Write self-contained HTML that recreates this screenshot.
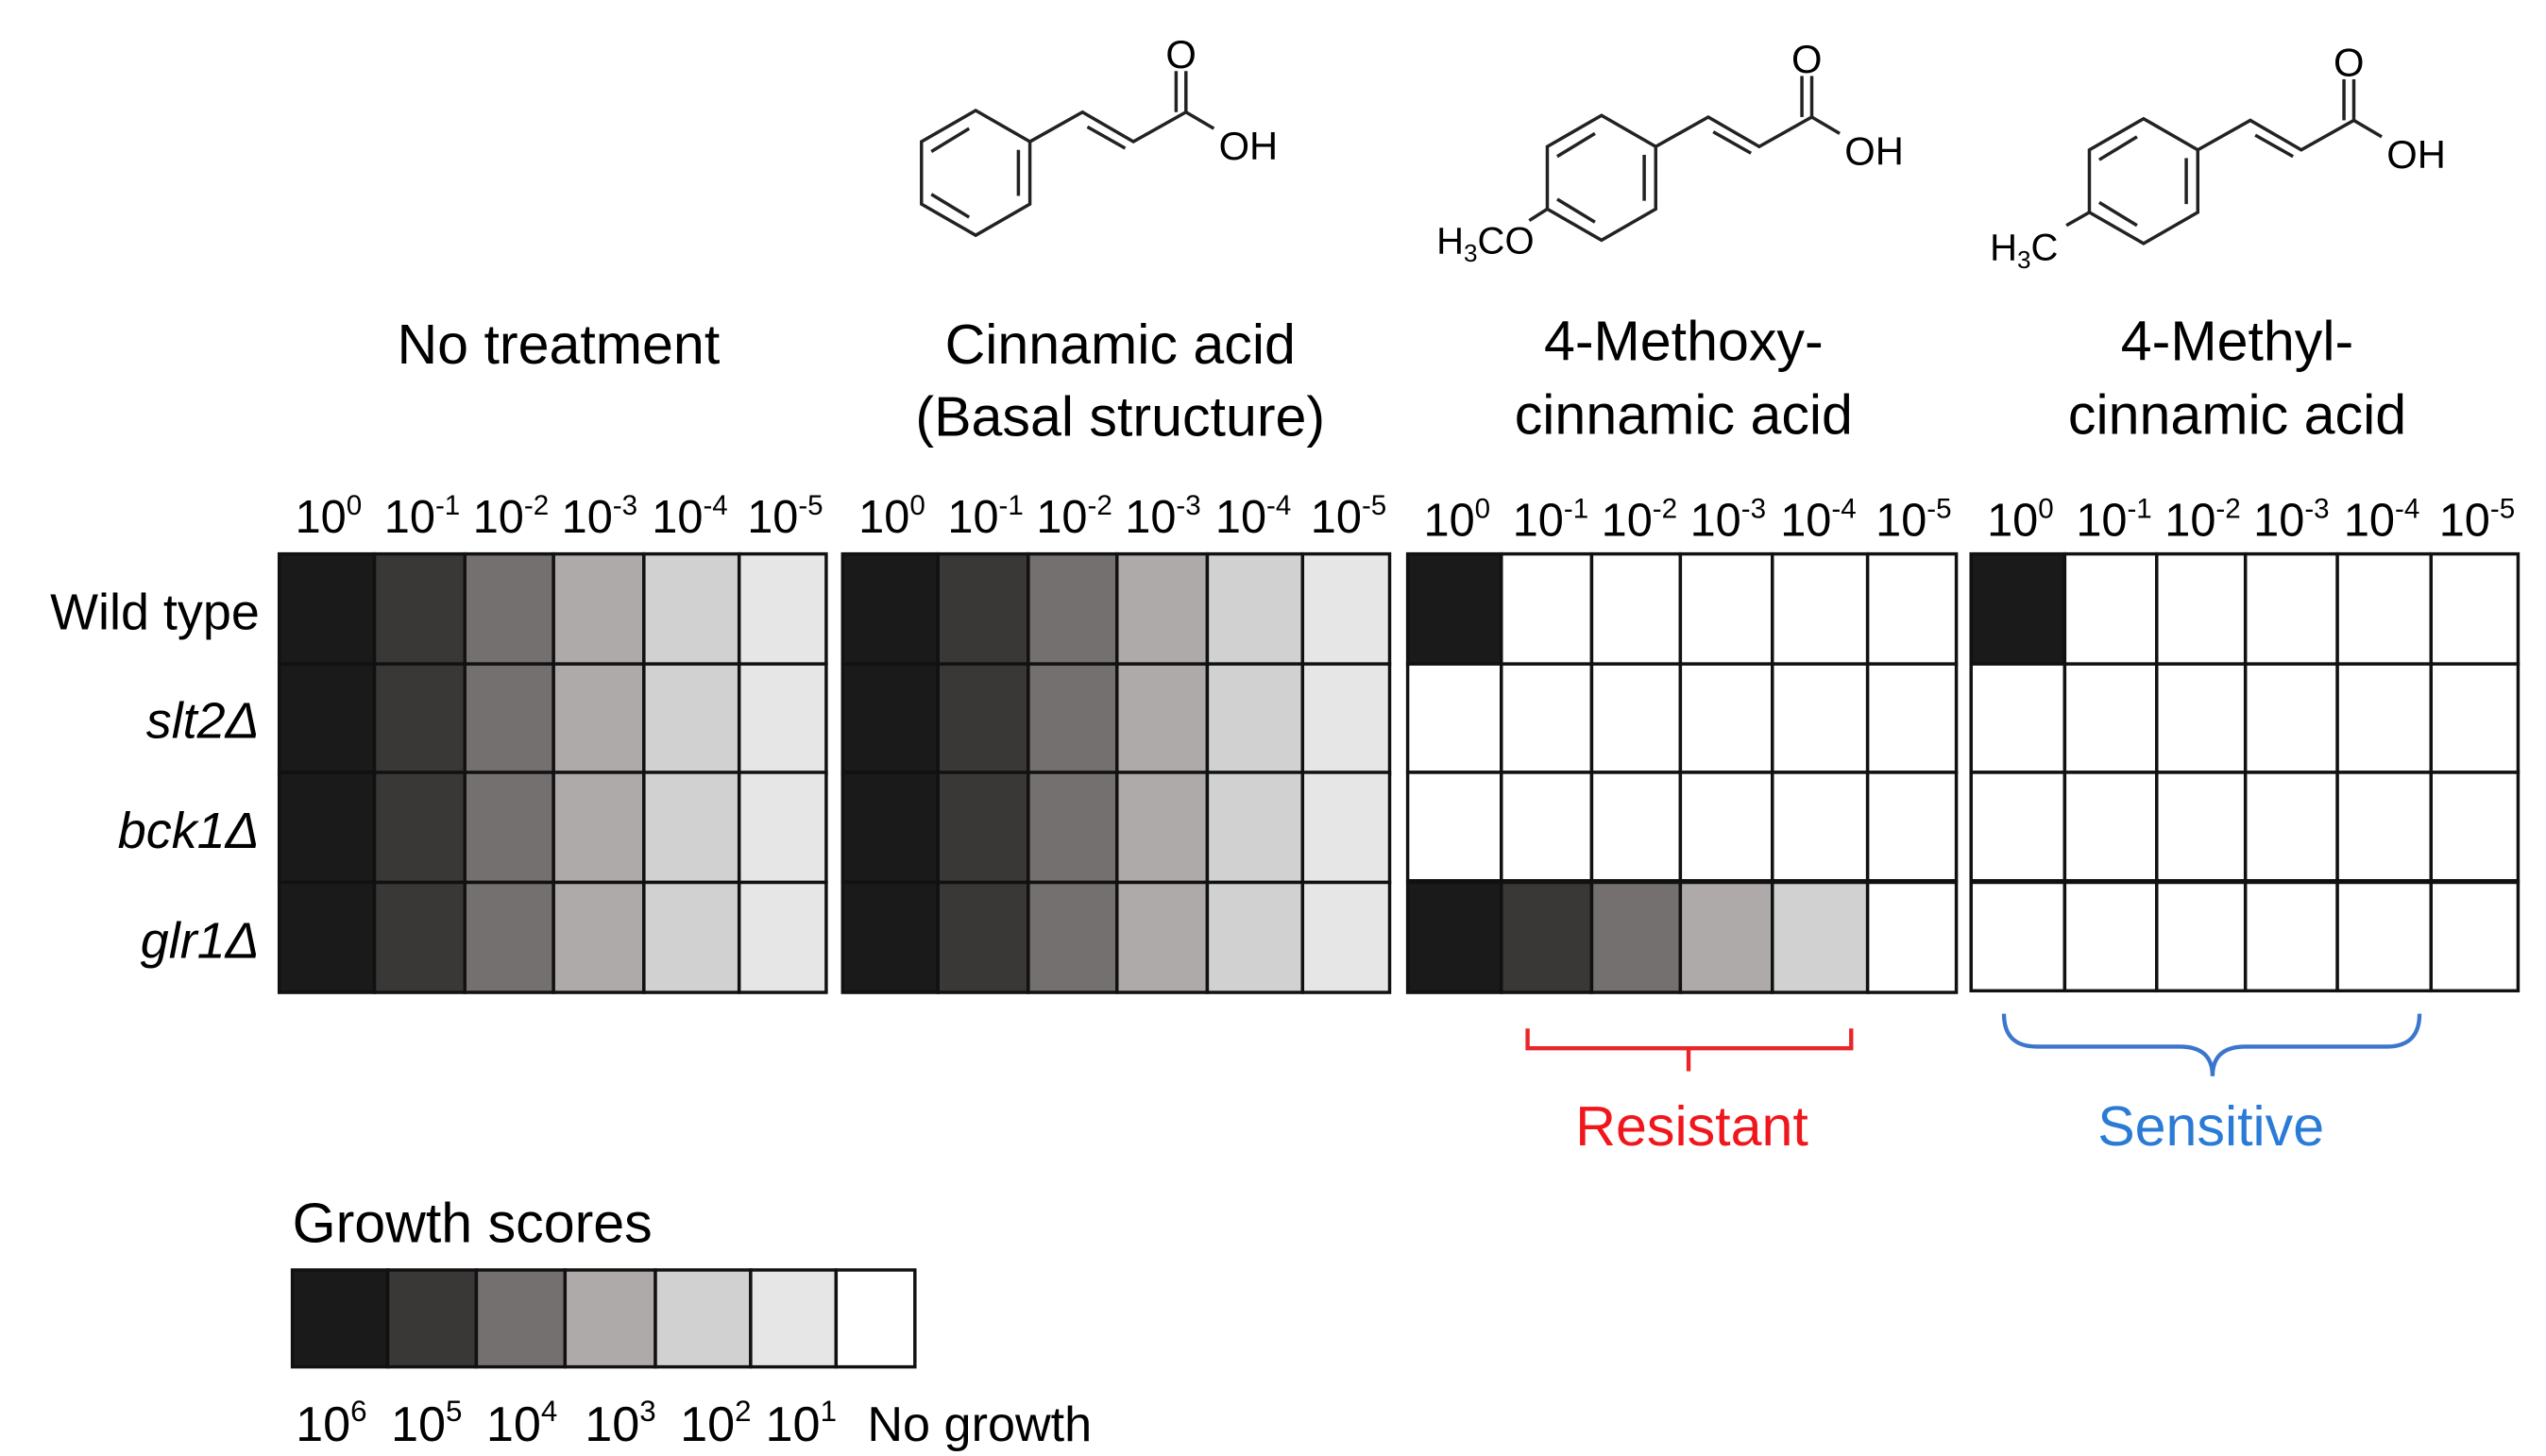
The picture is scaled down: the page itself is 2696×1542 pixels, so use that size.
<!DOCTYPE html>
<html><head><meta charset="utf-8"><style>
html,body{margin:0;padding:0;background:#fff;}
svg{display:block;}
text{font-family:"Liberation Sans Narrow","Liberation Sans",sans-serif;fill:#000;}
</style></head><body>
<svg width="2696" height="1542" viewBox="0 0 1550 886" xmlns="http://www.w3.org/2000/svg">
<defs>
<g id="core" fill="none" stroke="#222" stroke-width="2">
  <polygon points="0,-38 33,-19 33,19 0,38 -33,19 -33,-19"/>
  <line x1="26" y1="-14" x2="26" y2="14"/>
  <line x1="-27" y1="-13" x2="-4" y2="-27"/>
  <line x1="-27" y1="13" x2="-4" y2="27"/>
  <polyline points="33,-19 65,-37 96,-19 128,-37 145,-27"/>
  <line x1="68" y1="-28" x2="91" y2="-15"/>
  <line x1="128" y1="-37" x2="128" y2="-62"/>
  <line x1="122" y1="-37" x2="122" y2="-62"/>
</g>
</defs>

<!-- structures -->
<g transform="translate(594,105)">
  <use href="#core"/>
  <text x="125" y="-64" font-size="24" text-anchor="middle">O</text>
  <text x="148" y="-8" font-size="24">OH</text>
</g>
<g transform="translate(975,108)">
  <use href="#core"/>
  <text x="125" y="-64" font-size="24" text-anchor="middle">O</text>
  <text x="148" y="-8" font-size="24">OH</text>
  <line x1="-33" y1="19" x2="-44" y2="26" stroke="#222" stroke-width="2"/>
  <text x="-41" y="46" font-size="23" text-anchor="end">H<tspan font-size="15" dy="5">3</tspan><tspan dy="-5">CO</tspan></text>
</g>
<g transform="translate(1305,110)">
  <use href="#core"/>
  <text x="125" y="-64" font-size="24" text-anchor="middle">O</text>
  <text x="148" y="-8" font-size="24">OH</text>
  <line x1="-33" y1="19" x2="-47" y2="27" stroke="#222" stroke-width="2"/>
  <text x="-52" y="48" font-size="23" text-anchor="end">H<tspan font-size="15" dy="5">3</tspan><tspan dy="-5">C</tspan></text>
</g>

<!-- titles -->
<g font-size="34" text-anchor="middle">
<text x="340" y="221">No treatment</text>
<text x="682" y="221">Cinnamic acid</text>
<text x="682" y="265">(Basal structure)</text>
<text x="1025" y="219">4-Methoxy-</text>
<text x="1025" y="264">cinnamic acid</text>
<text x="1362" y="219">4-Methyl-</text>
<text x="1362" y="264">cinnamic acid</text>
</g>

<!-- dilution labels -->
<g font-size="28" text-anchor="middle">
<g id="dil">
<text x="200" y="324">10<tspan font-size="17" dy="-11">0</tspan></text>
<text x="257" y="324">10<tspan font-size="17" dy="-11">-1</tspan></text>
<text x="311" y="324">10<tspan font-size="17" dy="-11">-2</tspan></text>
<text x="365" y="324">10<tspan font-size="17" dy="-11">-3</tspan></text>
<text x="420" y="324">10<tspan font-size="17" dy="-11">-4</tspan></text>
<text x="478" y="324">10<tspan font-size="17" dy="-11">-5</tspan></text>
</g>
<use href="#dil" x="343"/>
<use href="#dil" x="687" y="2"/>
<use href="#dil" x="1030" y="2"/>
</g>

<!-- row labels -->
<g font-size="31" text-anchor="end">
<text x="158" y="383">Wild type</text>
<text x="158" y="449" font-style="italic">slt2Δ</text>
<text x="158" y="516" font-style="italic">bck1Δ</text>
<text x="158" y="583" font-style="italic">glr1Δ</text>
</g>

<!-- grids -->
<g stroke="#111" stroke-width="2">
<g id="g1">
 <g id="row1">
  <rect x="170" y="337" width="58" height="67" fill="#1a1a1a"/>
  <rect x="228" y="337" width="55" height="67" fill="#3a3836"/>
  <rect x="283" y="337" width="54" height="67" fill="#73706f"/>
  <rect x="337" y="337" width="55" height="67" fill="#adaaa9"/>
  <rect x="392" y="337" width="58" height="67" fill="#d2d1d1"/>
  <rect x="450" y="337" width="53" height="67" fill="#e6e6e6"/>
 </g>
 <use href="#row1" y="67"/>
 <use href="#row1" y="133"/>
 <use href="#row1" y="200"/>
</g>
<use href="#g1" x="343"/>
<!-- grid 3 -->
<g fill="#fff">
 <rect x="857" y="337" width="57" height="67" fill="#1a1a1a"/>
 <rect x="914" y="337" width="55" height="67"/><rect x="969" y="337" width="54" height="67"/><rect x="1023" y="337" width="56" height="67"/><rect x="1079" y="337" width="58" height="67"/><rect x="1137" y="337" width="54" height="67"/>
 <g id="wrow">
 <rect x="857" y="404" width="57" height="66"/><rect x="914" y="404" width="55" height="66"/><rect x="969" y="404" width="54" height="66"/><rect x="1023" y="404" width="56" height="66"/><rect x="1079" y="404" width="58" height="66"/><rect x="1137" y="404" width="54" height="66"/>
 </g>
 <use href="#wrow" y="66"/>
 <rect x="857" y="537" width="57" height="67" fill="#1a1a1a"/>
 <rect x="914" y="537" width="55" height="67" fill="#3a3836"/>
 <rect x="969" y="537" width="54" height="67" fill="#73706f"/>
 <rect x="1023" y="537" width="56" height="67" fill="#adaaa9"/>
 <rect x="1079" y="537" width="58" height="67" fill="#d2d1d1"/>
 <rect x="1137" y="537" width="54" height="67"/>
</g>
<!-- grid 4 -->
<g fill="#fff">
 <rect x="1200" y="337" width="57" height="67" fill="#1a1a1a"/>
 <rect x="1257" y="337" width="56" height="67"/><rect x="1313" y="337" width="54" height="67"/><rect x="1367" y="337" width="56" height="67"/><rect x="1423" y="337" width="57" height="67"/><rect x="1480" y="337" width="53" height="67"/>
 <g id="wrow4">
 <rect x="1200" y="404" width="57" height="66"/><rect x="1257" y="404" width="56" height="66"/><rect x="1313" y="404" width="54" height="66"/><rect x="1367" y="404" width="56" height="66"/><rect x="1423" y="404" width="57" height="66"/><rect x="1480" y="404" width="53" height="66"/>
 </g>
 <use href="#wrow4" y="66"/>
 <use href="#wrow4" y="133"/>
</g>
</g>

<!-- brackets -->
<path d="M930,626 V638 H1127 V626 M1028,638 V652" fill="none" stroke="#e8262a" stroke-width="2.5"/>
<text x="1030" y="697" font-size="34" text-anchor="middle" style="fill:#f0161c">Resistant</text>
<path d="M1220,617 Q1220,637 1240,637 H1327 Q1347,637 1347,655 Q1347,637 1367,637 H1453 Q1473,637 1473,617" fill="none" stroke="#3b76cc" stroke-width="2.5"/>
<text x="1346" y="697" font-size="34" text-anchor="middle" style="fill:#2a7bd6">Sensitive</text>

<!-- legend -->
<text x="178" y="756" font-size="34">Growth scores</text>
<g stroke="#111" stroke-width="2">
<rect x="178" y="773" width="58" height="59" fill="#1a1a1a"/>
<rect x="236" y="773" width="54" height="59" fill="#3a3836"/>
<rect x="290" y="773" width="54" height="59" fill="#73706f"/>
<rect x="344" y="773" width="55" height="59" fill="#adaaa9"/>
<rect x="399" y="773" width="58" height="59" fill="#d2d1d1"/>
<rect x="457" y="773" width="52" height="59" fill="#e6e6e6"/>
<rect x="509" y="773" width="48" height="59" fill="#fff"/>
</g>
<g font-size="30">
<text x="180" y="877">10<tspan font-size="18" dy="-12">6</tspan></text>
<text x="238" y="877">10<tspan font-size="18" dy="-12">5</tspan></text>
<text x="296" y="877">10<tspan font-size="18" dy="-12">4</tspan></text>
<text x="356" y="877">10<tspan font-size="18" dy="-12">3</tspan></text>
<text x="414" y="877">10<tspan font-size="18" dy="-12">2</tspan></text>
<text x="466" y="877">10<tspan font-size="18" dy="-12">1</tspan></text>
<text x="528" y="877">No growth</text>
</g>
</svg>
</body></html>
